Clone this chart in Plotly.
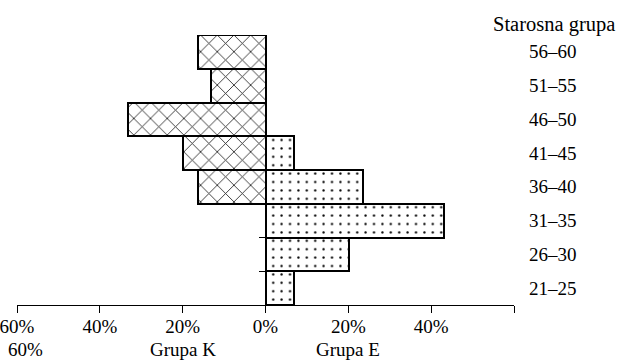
import plotly.graph_objects as go

age_groups = ["21–25", "26–30", "31–35", "36–40", "41–45", "46–50", "51–55", "56–60"]
grupa_k = [0, 0, 0, 16.4, 20, 33.2, 13.2, 16.4]   # percent, drawn to the left
grupa_e = [7, 20.2, 43, 23.6, 7, 0, 0, 0]          # percent, drawn to the right
x_ticks = [-60, -40, -20, 0, 20, 40, 60]
x_tick_text = ["60%", "40%", "20%", "0%", "20%", "40%", ""]
bottom_labels = [(-60, "60%"), (-20, "Grupa K"), (20, "Grupa E")]
y_pos = list(range(len(age_groups)))

FONT = "Liberation Serif"

fig = go.Figure()
fig.add_trace(go.Bar(
    y=y_pos, x=[-v for v in grupa_k], orientation="h", name="Grupa K",
    marker=dict(color="white", line=dict(color="black", width=2),
                pattern=dict(shape="x", fgcolor="#222", fgopacity=1, bgcolor="white",
                             size=11.8, solidity=0.14)),
    showlegend=False,
))
fig.add_trace(go.Bar(
    y=y_pos, x=grupa_e, orientation="h", name="Grupa E",
    marker=dict(color="white", line=dict(color="black", width=2),
                pattern=dict(shape=".", fgcolor="black", fgopacity=1, bgcolor="white",
                             size=8.4, solidity=0.06)),
    showlegend=False,
))

annotations = []
for i, lab in enumerate(age_groups):
    annotations.append(dict(x=1.078, y=i, xref="paper", yref="y", text=lab,
                            showarrow=False, xanchor="center", yanchor="middle",
                            font=dict(family=FONT, size=19, color="black")))
annotations.append(dict(x=1.081, y=1.04, xref="paper", yref="paper",
                        text="Starosna grupa", showarrow=False,
                        xanchor="center", yanchor="middle",
                        font=dict(family=FONT, size=20.5, color="black")))
for xv, txt in bottom_labels:
    annotations.append(dict(x=xv, y=-0.164, xref="x", yref="paper", text=txt,
                            showarrow=False, xanchor="center", yanchor="middle",
                            xshift=8 if xv == -60 else 0,
                            font=dict(family=FONT, size=19, color="black")))

fig.update_layout(
    width=621, height=360,
    margin=dict(l=16.5, r=106.5, t=35, b=55, autoexpand=False),
    paper_bgcolor="white", plot_bgcolor="white",
    barmode="relative", bargap=0,
    font=dict(family=FONT, size=19, color="black"),
    xaxis=dict(range=[-60, 60], tickvals=x_ticks, ticktext=x_tick_text,
               showgrid=False, zeroline=False, showline=True, automargin=False,
               linecolor="black", linewidth=1, ticks="outside", ticklen=7,
               tickcolor="black", ticklabeloverflow="allow",
               ticklabelstandoff=-3,
               tickfont=dict(family=FONT, size=19, color="black")),
    yaxis=dict(range=[-0.5, 7.5], anchor="free", position=0.5, automargin=False,
               tickvals=[v - 0.5 for v in y_pos], showticklabels=False,
               ticks="outside", ticklen=7, tickcolor="black",
               showgrid=False, zeroline=False, showline=True,
               linecolor="black", linewidth=1),
    annotations=annotations,
)

fig.write_html("out.html", config={"displayModeBar": False},
               post_script="document.body.style.margin='0';")
